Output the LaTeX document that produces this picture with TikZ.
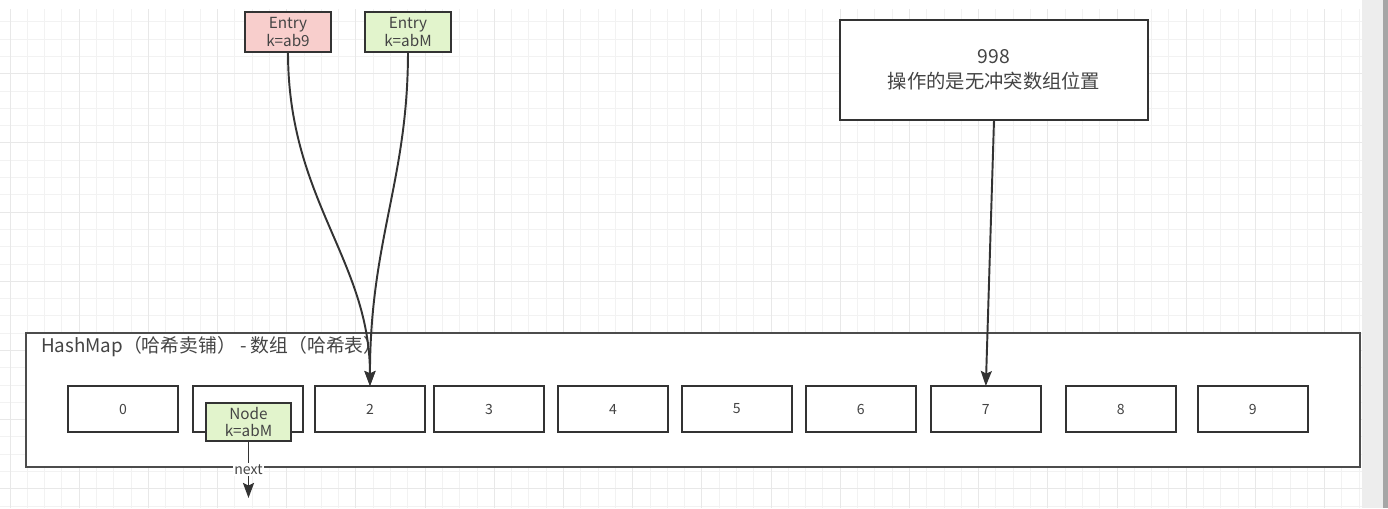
\documentclass[tikz,border=0pt]{standalone}
\usepackage{fontspec}
\setmainfont{Noto Sans CJK SC}
\usetikzlibrary{positioning,arrows.meta}

\definecolor{txt}{HTML}{444444}
\definecolor{edge}{HTML}{333333}
\definecolor{redfill}{HTML}{F8CECC}
\definecolor{greenfill}{HTML}{E2F4CC}

\tikzset{
    box/.style={draw=edge, line width=1.1pt, inner sep=0pt, outer sep=0pt, text=txt, align=center},
    cell/.style={box, fill=white, minimum width=2.2cm, minimum height=0.92cm, font=\fontsize{8}{10}\selectfont},
    entry/.style={box, minimum width=1.72cm, minimum height=0.8cm, font=\fontsize{8.7}{10}\selectfont},
    arr/.style={draw=edge, line width=1.1pt, -{Stealth[length=0.3cm,width=0.22cm,inset=0.05cm]}},
}

\begin{document}
\begin{tikzpicture}[x=0.02cm,y=-0.02cm]
    \useasboundingbox (0,0) rectangle (1388,508);
    \fill[white] (0,0) rectangle (1388,508);

    % background grid
    \begin{scope}[shift={(10,4.5)}]
        \draw[color=black!5, line width=0.5pt, step=0.346cm] (-10,4.5) grid (1352,503.5);
        \draw[color=black!9, line width=0.5pt, step=1.384cm] (-10,4.5) grid (1352,503.5);
    \end{scope}
    \fill[black!7] (1362,0) rectangle (1388,508);
    \fill[black!35] (1383,0) rectangle (1388,508);

    % the array
    \node[draw=black!70, line width=1.1pt, fill=white, minimum width=26.68cm, minimum height=2.68cm] (map) at (693,400) {};
    \node[anchor=west, text=txt, font=\fontsize{10.7}{12}\selectfont] (title) at (35,347) {HashMap（哈希卖铺） - 数组（哈希表）};

    \node[cell] (c0) at (123,409) {0};
    \node[cell, right=0.3cm of c0] (c1) {};
    \node[cell, right=0.24cm of c1] (c2) {2};
    \node[cell, right=0.18cm of c2] (c3) {3};
    \node[cell, right=0.28cm of c3] (c4) {4};
    \node[cell, right=0.28cm of c4] (c5) {5};
    \node[cell, right=0.28cm of c5] (c6) {6};
    \node[cell, right=0.3cm of c6] (c7) {7};
    \node[cell, right=0.5cm of c7] (c8) {8};
    \node[cell, right=0.44cm of c8] (c9) {9};

    % entries
    \node[entry, fill=redfill] (e1) at (288,32) {Entry\\k=ab9};
    \node[entry, fill=greenfill, right=0.68cm of e1] (e2) {Entry\\k=abM};
    \node[box, fill=white, minimum width=6.16cm, minimum height=2cm, font=\fontsize{11}{14}\selectfont] (info) at (994,70) {998\\操作的是无冲突数组位置};

    \draw[arr] (e1.south) .. controls (288,200) and (370,260) .. (c2.north);
    \draw[arr] (e2.south) .. controls (408,180) and (370,240) .. (c2.north);
    \draw[arr] (info.south) -- (c7.north);

    % chained node
    \node[entry, fill=greenfill, minimum width=1.7cm, minimum height=0.76cm] (n1) at (248.5,422) {Node\\k=abM};
    \coordinate[below=1.14cm of n1.south] (nx);
    \draw[arr] (n1.south) -- node[fill=white, inner sep=1pt, text=txt, font=\fontsize{8}{9}\selectfont] {next} (nx);
\end{tikzpicture}
\end{document}
